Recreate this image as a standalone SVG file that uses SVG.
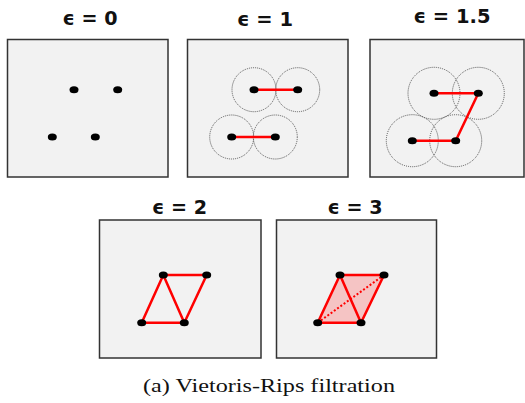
<svg xmlns="http://www.w3.org/2000/svg" width="525" height="403" viewBox="0 0 525 403">
<style>
.panel{fill:#f2f2f2;stroke:#333;stroke-width:1.5}
.title{font-family:"DejaVu Sans",sans-serif;font-weight:bold;font-size:19px;fill:#111;text-anchor:middle}
.dot{fill:#000}
.ball{fill:none;stroke:#555;stroke-width:1;stroke-dasharray:1 1}
.edge{stroke:#f00;stroke-width:2.5;fill:none;stroke-linecap:round}
.tri{fill:#f5c4c4;stroke:none}
.dash{stroke:#f00;stroke-width:2;stroke-dasharray:2 2;fill:none}
.cap{font-family:"Liberation Serif",serif;font-size:19px;fill:#111;text-anchor:middle}
</style>
<rect width="525" height="403" fill="#fff"/>
<g id="panel-e0">
<rect class="panel" x="7.5" y="39.5" width="160.5" height="137.5"/>
<text class="title" x="90" y="25" textLength="55" lengthAdjust="spacingAndGlyphs">ϵ = 0</text>
<ellipse class="dot" cx="74" cy="89.7" rx="4.5" ry="3.5"/>
<ellipse class="dot" cx="117.7" cy="89.7" rx="4.5" ry="3.5"/>
<ellipse class="dot" cx="52.3" cy="137" rx="4.5" ry="3.5"/>
<ellipse class="dot" cx="95.3" cy="137" rx="4.5" ry="3.5"/>
</g>
<g id="panel-e1">
<rect class="panel" x="187.5" y="39.5" width="160.5" height="137.5"/>
<text class="title" x="265" y="26" textLength="56" lengthAdjust="spacingAndGlyphs">ϵ = 1</text>
<circle class="ball" cx="254" cy="89.7" r="22"/>
<circle class="ball" cx="297.7" cy="89.7" r="22"/>
<circle class="ball" cx="231.7" cy="137" r="22"/>
<circle class="ball" cx="275.3" cy="137" r="22"/>
<line class="edge" x1="254" y1="89.7" x2="297.7" y2="89.7"/>
<line class="edge" x1="231.7" y1="137" x2="275.3" y2="137"/>
<ellipse class="dot" cx="254" cy="89.7" rx="4.5" ry="3.5"/>
<ellipse class="dot" cx="297.7" cy="89.7" rx="4.5" ry="3.5"/>
<ellipse class="dot" cx="231.7" cy="137" rx="4.5" ry="3.5"/>
<ellipse class="dot" cx="275.3" cy="137" rx="4.5" ry="3.5"/>
</g>
<g id="panel-e15">
<rect class="panel" x="370" y="39.5" width="154" height="137.5"/>
<text class="title" x="452" y="23" textLength="77" lengthAdjust="spacingAndGlyphs">ϵ = 1.5</text>
<circle class="ball" cx="434" cy="93.3" r="26"/>
<circle class="ball" cx="478.3" cy="93.3" r="26"/>
<circle class="ball" cx="412.3" cy="140.7" r="26"/>
<circle class="ball" cx="455.7" cy="140.7" r="26"/>
<polyline class="edge" points="434,93.3 478.3,93.3 455.7,140.7 412.3,140.7"/>
<ellipse class="dot" cx="434" cy="93.3" rx="4.5" ry="3.5"/>
<ellipse class="dot" cx="478.3" cy="93.3" rx="4.5" ry="3.5"/>
<ellipse class="dot" cx="412.3" cy="140.7" rx="4.5" ry="3.5"/>
<ellipse class="dot" cx="455.7" cy="140.7" rx="4.5" ry="3.5"/>
</g>
<g id="panel-e2">
<rect class="panel" x="99.5" y="220" width="161.5" height="138"/>
<text class="title" x="179.5" y="214" textLength="55" lengthAdjust="spacingAndGlyphs">ϵ = 2</text>
<polygon class="edge" points="163.3,275 206.7,275 184.3,322.7 141.7,322.7"/>
<line class="edge" x1="163.3" y1="275" x2="184.3" y2="322.7"/>
<ellipse class="dot" cx="163.3" cy="275" rx="4.5" ry="3.5"/>
<ellipse class="dot" cx="206.7" cy="275" rx="4.5" ry="3.5"/>
<ellipse class="dot" cx="141.7" cy="322.7" rx="4.5" ry="3.5"/>
<ellipse class="dot" cx="184.3" cy="322.7" rx="4.5" ry="3.5"/>
</g>
<g id="panel-e3">
<rect class="panel" x="276.5" y="220" width="160" height="138"/>
<text class="title" x="355" y="214" textLength="55" lengthAdjust="spacingAndGlyphs">ϵ = 3</text>
<polygon class="tri" points="340,275 384,275 361,322.7 317.7,322.7"/>
<line class="dash" x1="317.7" y1="322.7" x2="384" y2="275"/>
<polygon class="edge" points="340,275 384,275 361,322.7 317.7,322.7"/>
<line class="edge" x1="340" y1="275" x2="361" y2="322.7"/>
<ellipse class="dot" cx="340" cy="275" rx="4.5" ry="3.5"/>
<ellipse class="dot" cx="384" cy="275" rx="4.5" ry="3.5"/>
<ellipse class="dot" cx="317.7" cy="322.7" rx="4.5" ry="3.5"/>
<ellipse class="dot" cx="361" cy="322.7" rx="4.5" ry="3.5"/>
</g>
<g id="caption">
<text class="cap" x="269" y="391.5" textLength="252" lengthAdjust="spacingAndGlyphs">(a) Vietoris-Rips filtration</text>
</g>
</svg>
